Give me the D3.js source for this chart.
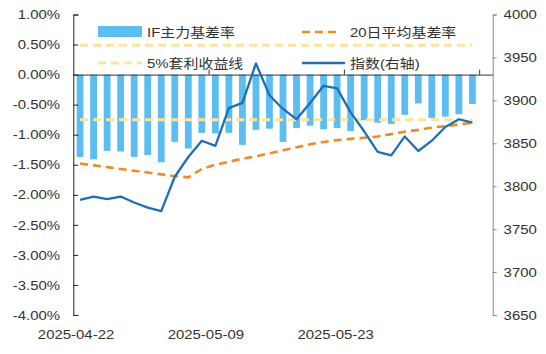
<!DOCTYPE html>
<html>
<head>
<meta charset="utf-8">
<script src="https://cdn.jsdelivr.net/npm/d3@7"></script>
<style>
    body { margin: 0; background: #fff; }
    text { font-family: "Liberation Sans", Arial, "Noto Sans CJK SC", sans-serif; fill: #333; }
</style>
</head>
<body>
<div id="the_chart"></div>
<script>
// trading days on the category axis (last one has no data)
var dates = ["2025-04-22", "2025-04-23", "2025-04-24", "2025-04-25", "2025-04-28", "2025-04-29", "2025-04-30",
    "2025-05-06", "2025-05-07", "2025-05-08", "2025-05-09", "2025-05-12", "2025-05-13", "2025-05-14", "2025-05-15",
    "2025-05-16", "2025-05-19", "2025-05-20", "2025-05-21", "2025-05-22", "2025-05-23", "2025-05-26", "2025-05-27",
    "2025-05-28", "2025-05-29", "2025-05-30", "2025-06-03", "2025-06-04", "2025-06-05", "2025-06-06", "2025-06-09"];
var dateLabels = ["2025-04-22", "2025-05-09", "2025-05-23"];

// IF主力基差率 (%)
var basis = [-1.37, -1.41, -1.27, -1.28, -1.37, -1.34, -1.46, -1.12, -1.23, -0.97,
    -0.98, -0.97, -1.17, -0.92, -0.90, -1.12, -0.89, -0.85, -0.91, -0.89,
    -0.94, -0.76, -0.80, -0.82, -0.67, -0.48, -0.72, -0.70, -0.66, -0.49];
// 20日平均基差率 (%)
var avg20 = [-1.48, -1.51, -1.54, -1.57, -1.60, -1.63, -1.66, -1.69, -1.71, -1.57,
    -1.50, -1.45, -1.40, -1.36, -1.31, -1.26, -1.21, -1.16, -1.12, -1.09,
    -1.07, -1.05, -1.03, -0.99, -0.95, -0.92, -0.88, -0.86, -0.83, -0.80];
// 5%套利收益线 (two levels, %)
var arbLevels = [0.49, -0.75];
// 指数(右轴)
var indexVals = [3784, 3788, 3785, 3788, 3781, 3775, 3771, 3811, 3834, 3853,
    3847, 3891, 3897, 3943, 3906, 3890, 3878, 3897, 3917, 3914,
    3886, 3864, 3840, 3836, 3858, 3841, 3853, 3869, 3878, 3874];

var leftTicks = [1.0, 0.5, 0.0, -0.5, -1.0, -1.5, -2.0, -2.5, -3.0, -3.5, -4.0];
var rightTicks = [4000, 3950, 3900, 3850, 3800, 3750, 3700, 3650];

var w = 546, h = 354;
var padL = 73.3, padR = 492.7, padT = 14.5, padB = 315;
var sx = 1.15; // text in the source is a bit wide

var svg = d3.select("#the_chart").append("svg")
    .attr("width", w).attr("height", h);

var x = d3.scaleBand().domain(dates).range([padL, padR]);
var xi = d3.scaleLinear().domain([0, dates.length]).range([padL, padR]);
var y = d3.scaleLinear().domain([-4, 1]).range([padB, padT]);
var y2 = d3.scaleLinear().domain([3650, 4000]).range([padB, padT]);

var cx = function (d, i) { return x(dates[i]) + x.bandwidth() / 2; };

// bars
svg.selectAll("rect.bar")
    .data(basis)
    .enter().append("rect")
    .attr("class", "bar")
    .attr("x", function (d, i) { return cx(d, i) - 3.4; })
    .attr("width", 6.8)
    .attr("y", y(0))
    .attr("height", function (d) { return y(d) - y(0); })
    .attr("fill", "#5cbef0");

// zero axis with category ticks
var xaxis = d3.axisTop(xi).tickValues([10, 20, 30]).tickSize(5).tickSizeOuter(0).tickFormat("");
svg.append("g")
    .attr("transform", "translate(0," + y(0) + ")")
    .call(xaxis)
    .call(function (g) { g.selectAll("path,line").attr("stroke", "#333"); });

// 5% lines
arbLevels.forEach(function (v) {
    svg.append("path")
        .datum(basis)
        .attr("fill", "none")
        .attr("stroke", "#fde49a")
        .attr("stroke-width", 3)
        .attr("stroke-dasharray", "8,5")
        .attr("d", d3.line().x(cx).y(function () { return y(v); }));
});

// 20 day average
svg.append("path")
    .datum(avg20)
    .attr("fill", "none")
    .attr("stroke", "#ee8a27")
    .attr("stroke-width", 2.6)
    .attr("stroke-dasharray", "8,5")
    .attr("d", d3.line().x(cx).y(function (d) { return y(d); }));

// index line
svg.append("path")
    .datum(indexVals)
    .attr("fill", "none")
    .attr("stroke", "#1f6fb7")
    .attr("stroke-width", 2.3)
    .attr("stroke-linejoin", "round")
    .attr("d", d3.line().x(cx).y(function (d) { return y2(d); }));

// left axis
var yaxis = d3.axisLeft(y).tickValues(leftTicks).tickSize(-5).tickPadding(11.5)
    .tickFormat(function (d) { return d.toFixed(2) + "%"; });
svg.append("g")
    .attr("transform", "translate(" + padL + ",0)")
    .call(yaxis)
    .call(function (g) {
        g.selectAll("path,line").attr("stroke", "#222");
        g.selectAll("text").attr("font-size", 13).style("fill", "#333")
            .attr("transform", "scale(" + sx + ",1)");
    });

// right axis
var yaxis2 = d3.axisRight(y2).tickValues(rightTicks).tickSize(4).tickPadding(5.5)
    .tickFormat(d3.format("d"));
svg.append("g")
    .attr("transform", "translate(" + padR + ",0)")
    .call(yaxis2)
    .call(function (g) {
        g.selectAll("path,line").attr("stroke", "#888");
        g.selectAll("text").attr("font-size", 13).style("fill", "#333")
            .attr("transform", "scale(" + sx + ",1)");
    });

// date labels (drawn a little left of their category, more so further right)
dateLabels.forEach(function (d) {
    var i = dates.indexOf(d);
    svg.append("text")
        .attr("transform", "translate(" + (cx(d, i) - 4 - i * 0.55) + ",339) scale(" + sx + ",1)")
        .attr("text-anchor", "middle")
        .attr("font-size", 13)
        .text(d);
});

// legend
function legendText(px, py, t) {
    svg.append("text")
        .attr("transform", "translate(" + px + "," + py + ") scale(" + sx + ",1)")
        .attr("dy", "0.35em")
        .attr("font-size", 13)
        .text(t);
}
svg.append("rect").attr("x", 98).attr("y", 26).attr("width", 44).attr("height", 11).attr("fill", "#5cbef0");
legendText(147, 32, "IF主力基差率");
svg.append("line").attr("x1", 302).attr("x2", 341).attr("y1", 32).attr("y2", 32)
    .attr("stroke", "#ee8a27").attr("stroke-width", 2.6).attr("stroke-dasharray", "8,5");
legendText(350, 32, "20日平均基差率");
svg.append("line").attr("x1", 98).attr("x2", 142).attr("y1", 63).attr("y2", 63)
    .attr("stroke", "#fde49a").attr("stroke-width", 3).attr("stroke-dasharray", "8,5");
legendText(147, 63, "5%套利收益线");
svg.append("line").attr("x1", 302).attr("x2", 345).attr("y1", 63).attr("y2", 63)
    .attr("stroke", "#1f6fb7").attr("stroke-width", 2.3);
legendText(350, 63, "指数(右轴)");
</script>
</body>
</html>
